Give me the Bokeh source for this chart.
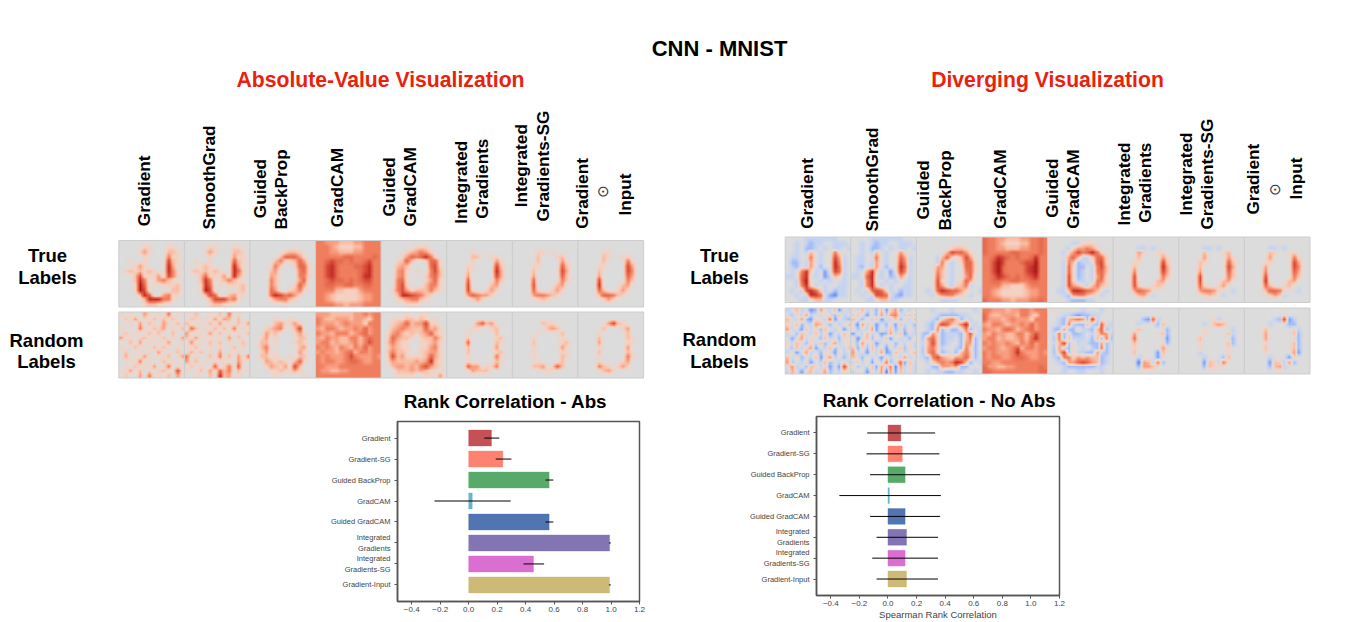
import numpy as np
from bokeh.embed import file_html
from bokeh.resources import INLINE
from bokeh.plotting import figure
from bokeh.layouts import column, row
from bokeh.models import Range1d, LinearColorMapper, FixedTicker, ColumnDataSource, Spacer
from bokeh.core.properties import value

# ---- bar chart data
bar_labels = ["Gradient", "Gradient-SG", "Guided BackProp", "GradCAM", "Guided GradCAM",
              "Integrated\nGradients", "Integrated\nGradients-SG", "Gradient-Input"]
bar_colors = ["#c44e52", "#ff7f6e", "#55a868", "#64b5cd", "#4c72b0", "#8172b2", "#da6bd0", "#ccb974"]
abs_vals = [0.16, 0.24, 0.565, 0.025, 0.565, 0.99, 0.455, 0.99]
abs_lo = [0.11, 0.19, 0.54, -0.24, 0.54, 0.985, 0.385, 0.985]
abs_hi = [0.215, 0.30, 0.595, 0.295, 0.595, 0.998, 0.53, 0.998]
noabs_vals = [0.09, 0.10, 0.12, 0.01, 0.12, 0.13, 0.12, 0.13]
noabs_lo = [-0.145, -0.15, -0.125, -0.34, -0.125, -0.08, -0.11, -0.08]
noabs_hi = [0.33, 0.36, 0.365, 0.37, 0.365, 0.35, 0.35, 0.35]
x_ticks = [-0.4, -0.2, 0.0, 0.2, 0.4, 0.6, 0.8, 1.0, 1.2]

# ---- saliency maps on a coarse grid.
# digits: red intensity, letters a-g: blue intensity
a_t_grad = ["00000000000000","00000110001100","00001310002210","00000100004110","00100100006210","00013100007301","01212121007410","00026111306410","00027401342100","00018501011120","00018600000220","00002750034110","00000277744100","00000122110000"]
a_t_smooth = ["00000000000000","00000110001100","00001310002210","00000100003110","00100100005210","00012100007301","01212121007510","00025111307310","00027401242100","00017501011120","00018600000120","00002650023110","00000266634100","00000122110000"]
a_t_gb = ["00000000000000","00000000000000","00000001221000","00000025553100","00000241125300","00001410015510","00002300004510","00003200004410","00004200003500","00004200015300","00005300124100","00005764531000","00001344210000","00000001000000"]
a_t_cam = ["44333222334444","44432111224444","44433222334444","44444455444454","44565545445644","44675444556744","44675444456744","44675444457744","44565545456644","44554455445544","44442211134444","44321111123344","44321111123344","44443323334444"]
a_t_ggc = ["00000000000000","00000001110000","00000123431000","00001354574100","00012520015510","00023200005610","00034101004620","00034100014520","00045100013510","00046100024410","00146312224210","00027765421000","00012344210000","00000111000000"]
a_t_ig = ["00000000000000","00000000000000","00000100000000","00000220011000","00000100003100","00001100006200","00002000007300","00003000006300","00005000004200","00006000023000","00006100131000","00003543310000","00000131000000","00000000000000"]
a_t_igsg = ["00000000000000","00000000000000","00000110100000","00000200012000","00000200003100","00001100005200","00002000006300","00003000005200","00005000004200","00006000023000","00005100131000","00003443210000","00000121000000","00000000000000"]
a_t_gi = ["00000000000000","00000000000000","00000110000000","00000210011000","00000200004100","00001100006300","00002000006400","00003000005300","00006000004200","00007000023000","00005200131000","00002554210000","00000131000000","00000000000000"]

a_r_grad = ["10100310104010","02030102020200","00103020031020","10004102130102","02010020200200","30101201020103","00203010103001","10020102020010","02001010301020","03010300102003","00104010020100","01020103004010","10302010120060","02003040102030"]
a_r_smooth = ["10200102040100","02101030320200","20010203010203","05201020204010","30010302010102","20301010030200","04010202010020","10200101002010","03020103010100","40100204020304","30201010100310","02010050140500","10020305240201","00100207230100"]
a_r_gb = ["00000000000000","00000100100000","00000231131000","00012340026000","00031200013100","00130100002200","00220100012100","00240000002300","00130100003100","00220100102200","00032121025100","00013213062000","00001121131000","00000100000100"]
a_r_cam = ["33322222334344","43223332332144","43332343331444","32443233435344","43324442345344","32433224424544","34423223424644","43432432435344","34332345244344","43433346433343","43443345543344","44333444444444","43322334444444","44444444444444"]
a_r_ggc = ["00000100110000","00111221210100","00123523361100","00234322252310","01342121235210","01532210122420","02421100112310","01321100113410","02422100123310","01623111125310","01322223237210","00233232463210","00022232321101","00011110011030"]
a_r_ig = ["00000000000000","00000000000000","00000035230000","00000110012000","00001000002000","00001000001200","00005000002100","00002000003000","00002000001200","00001000004100","00001000002100","00005330114000","00000322200000","00000000000000"]
a_r_igsg = ["00000000000000","00000000000000","00000021100000","00000002320000","00000100002000","00001000001000","00002000001200","00001000003100","00001000001100","00001000002100","00000100002000","00002230152000","00000011100000","00000000000000"]
a_r_gi = ["00000000000000","00000000000000","00000036210000","00000200013000","00001000002000","00002000002100","00003000001100","00001000003000","00002000002100","00001000004100","00001000013000","00004210131000","00000231000000","00000000000000"]

d_t_grad = ["0000aaaaaaa000","00a0abaa00aaa0","00a0bba0a0aa0a","00a0a20a004100","0aa0040a0063a0","0bb0a30a0074a0","0ab0a30b0075a0","0a0471a0c065a0","aa0570a0ca21a0","00a5800a0a00a0","00a471a0a00aa0","0a0a6751a0baa0","00a0a7750cdaa0","000aa022aa0000"]
d_t_smooth = ["0000aaaaaaa000","00a0abaa00aaa0","00a0bba0a0aa0a","00a0a20a003100","0aa0040a0053a0","0aa0a30a0064a0","0ab0a30b0075a0","0a0371a0c064a0","aa0570a0ba31a0","00a4700a0a00a0","00a471a0a00aa0","0a0a5651a0baa0","00a0a6650bcaa0","000aa022aa0000"]
d_t_gb = ["00000000000000","00000000000000","00000001221000","00000026553100","0000a251026300","0000a40a015510","0000330a005510","0000420a004510","0000520a003500","0000610a015300","0000630a124a00","00a0576553100a","000a1344210a00","00000aaaa00000"]
d_t_cam = ["54433222334454","54432111224454","54433222334454","54444455444454","44576545445744","44686444566844","44685444467844","44685444467844","44576545456744","44554455445544","44442211134444","44321111123344","44321111123344","54443323334454"]
d_t_ggc = ["00000000000000","00000aa1110000","0000a133431000","000a1364574100","0000352aa15510","000a42baa05610","000a51bb0a4620","000a51ba0a4520","000a61ba0a3510","000a61aa0a4410","000a6320a24210","00aa27765420a0","000ab344210a00","0000abbbaa0000"]
d_t_ig = ["00000000000000","00000000000000","00000aa0a00000","00000310011000","00000200003100","00001100006200","00002000007300","00004000006300","00006000004200","00006000023000","00006100121000","00003543100000","00000230a00000","00000000000000"]
d_t_igsg = ["00000000000000","00000000000000","00000aa0a00000","00000200012000","00000300003100","00002100005200","00002000006300","00003000005200","00006000004200","00006000023000","00005100130000","00003443100a00","000001210a0000","00000000000000"]
d_t_gi = ["00000000000000","00000000000000","00000aa0a00000","00000210011000","00000300004100","00001100006300","00003000006400","00004000005300","00006000004200","00007000023000","00005200120000","00002554100a00","00000131a00000","00000000000000"]

d_r_grad = ["a02a0cb30a2c0a","0b1a3a0a10b2a0","20a3bc10a4c0ab","1a2b0a320b1a02","3a0c2a1b20a1c0","a1b20a2a1c0a20","0c03a10b2a0b10","1a20b1a2b03a01","0b2a13c0a2b0a2","a1c03a0b10c1a0","2a1b0a2c03a0b0","3b0a1c0a2b0a1a","04a0b21a1c0c60","a30c12a03b0a10"]
d_r_smooth = ["1a2a0b2c13b0a1","a20c1b3a340a2a","20b1a2c0a2b1a2","0d3a1c0b1c2a0b","1b0a3c1a2b0b1a","c1a2a0cb3a2c0a","1d02b1a2c1a0b1","0b3a1c0a1b0a1a","2c1b2a1c0a2b1a","3a0c1a3cb20a02","20b1a0c1a0a3a0","a2a1c1a4b05c2a","1b0a2c3a4d3a1a","a10c1a3d3c2a1a"]
d_r_gb = ["000a000a0000a0","0000abbbbaa000","000ab1342b0a00","00ab26521470a0","00ab4b0bb04b0a","0bb31baaab250a","0b351baa0b24b0","0a261ba00b33b0","0b341a00ab41b0","0b351ba0b242b0","0ab463213352b0","00a13434762b0a","000bb3323bb000","00a0aabbaa00a0"]
d_r_cam = ["44333233443444","53223332442144","53332343331444","32443233435344","43324542345344","32433224424644","34423223425744","43433432435344","34432346244344","43433347433343","43443345543344","44334444444444","53322334444454","55444444444455"]
d_r_ggc = ["0100000a000a00","000aabcbbaa000","00ab2343b6a000","00ab4abb2ab50a","0bb3bb1aab25b0","0a4b1bba0a143a","0b4b2aaa0b2b4b","0a26b1a0abb3b0","0b3ab10a1ab4b0","0b26b1aabb3ab0","0ab44132322ba0","00ab3356532ba0","000abbbbbbaa00","000a00aa000a00"]
d_r_ig = ["00000000000000","00000000000000","000000bc5a0000","00000a000b2000","00000200000b00","00003000002b00","00005000000c00","00002000001b00","00001000003100","000020000c2000","00000a000c1000","00000d32a4b000","00000b33200000","00000000000000"]
d_r_igsg = ["00000000000000","00000000000000","00000001a00000","00000a02320000","00000100000a00","00000100002a00","00002000000b00","00001000002b00","00001000001000","0000a000001000","00000a000b2000","00000c21a40000","00000b21100000","00000000000000"]
d_r_gi = ["00000000000000","00000000000000","000000ab6ca000","00000a000bb000","00002000001a00","00003000002b00","00003000000b00","00001000002b00","00002000002b00","00001000003c00","00000a000c1000","00000c21a3b000","00000b23a00000","00000000000000"]

abs_true = [a_t_grad, a_t_smooth, a_t_gb, a_t_cam, a_t_ggc, a_t_ig, a_t_igsg, a_t_gi]
abs_rand = [a_r_grad, a_r_smooth, a_r_gb, a_r_cam, a_r_ggc, a_r_ig, a_r_igsg, a_r_gi]
div_true = [d_t_grad, d_t_smooth, d_t_gb, d_t_cam, d_t_ggc, d_t_ig, d_t_igsg, d_t_gi]
div_rand = [d_r_grad, d_r_smooth, d_r_gb, d_r_cam, d_r_ggc, d_r_ig, d_r_igsg, d_r_gi]

stops = ["#1f3aa8", "#2f4cc0", "#4568d8", "#5a7ce0", "#7f9eee", "#a4bdf5", "#c5d3f3",
         "#dcdcdc",
         "#f3d2c4", "#f9bda5", "#f89d80", "#f07e5e", "#e56a4f", "#d84a38", "#c22e27", "#a81a1d", "#860c14"]
rgb = np.array([[int(s[i:i + 2], 16) for i in (1, 3, 5)] for s in stops], float)
fine = np.linspace(0, len(stops) - 1, 161)
palette = ["#%02x%02x%02x" % tuple(int(round(np.interp(t, np.arange(len(stops)), rgb[:, c]))) for c in range(3)) for t in fine]
mapper = LinearColorMapper(palette=palette, low=-7.05, high=9.05)

def box(a, w):
    # display blur: the reference panels are soft bitmaps
    pad = w // 2
    b = np.pad(a, pad, mode="edge")
    ker = np.ones(w) / w
    b = np.apply_along_axis(lambda r: np.convolve(r, ker, mode="same"), 0, b)
    b = np.apply_along_axis(lambda r: np.convolve(r, ker, mode="same"), 1, b)
    return b[pad:-pad, pad:-pad]

def decode(rows):
    out = []
    for r in rows:
        out.append([float(c) if c.isdigit() else -float(ord(c) - 96) for c in r])
    a = np.kron(np.array(out)[::-1], np.ones((5, 5)))
    return box(a, 5)

W, H_TOP = 1329, 412
top = figure(width=W, height=H_TOP, x_range=Range1d(0, W), y_range=Range1d(-H_TOP, 0),
             output_backend="svg", toolbar_location=None, x_axis_location=None, y_axis_location=None,
             min_border=0, outline_line_color=None)
top.grid.visible = False

def strip(panels, x0, y0, step, h):
    for i, pan in enumerate(panels):
        x = x0 + i * step
        top.image(image=[decode(pan)], x=x, y=-(y0 + h), dw=step, dh=h, color_mapper=mapper)
        top.quad(left=[x], right=[x + step], top=[-y0], bottom=[-(y0 + h)], fill_color=None,
                 line_color="#cdcdcd", line_width=1)

strip(abs_true, 118.3, 240, 65.6, 66.5)
strip(abs_rand, 118.3, 311.5, 65.6, 66)
strip(div_true, 784.7, 236.5, 65.6, 65.5)
strip(div_rand, 784.7, 307.5, 65.6, 66)

def label(x, y, s, size, color="#000000", angle=0.0, align="center", base="middle", font="Liberation Sans", style="bold"):
    top.text(x=[x], y=[-y], text=[s], text_font=value(font), text_font_size=f"{size}px",
             text_font_style=style, text_color=color, angle=angle, text_align=align, text_baseline=base)

label(719, 48, "CNN - MNIST", 22)
label(380, 79, "Absolute-Value Visualization", 21.2, "#e8220c")
label(1047, 79, "Diverging Visualization", 21.2, "#e8220c")
label(47, 255, "True", 18.5); label(47, 277, "Labels", 18.5)
label(46, 340, "Random", 18.5); label(46, 361, "Labels", 18.5)
label(719, 255, "True", 18.5); label(719, 277, "Labels", 18.5)
label(719, 339, "Random", 18.5); label(719, 361, "Labels", 18.5)
label(505, 401, "Rank Correlation - Abs", 18.8)
label(939, 400, "Rank Correlation - No Abs", 18.8)

col_heads_left = [("Gradient", 143.3, 225.7), ("SmoothGrad", 208.3, 229), ("Guided", 259.3, 217.7), ("BackProp", 280.7, 229),
                  ("GradCAM", 336.7, 226.7), ("Guided", 388.3, 216), ("GradCAM", 409.3, 226), ("Integrated", 460, 223.3),
                  ("Gradients", 481.7, 218.3), ("Integrated", 520.7, 206.7), ("Gradients-SG", 542.3, 221),
                  ("Gradient", 581.7, 228.3), ("Input", 624.3, 215)]
col_heads_right = [("Gradient", 806.7, 228.3), ("SmoothGrad", 871, 231), ("Guided", 922.3, 219), ("BackProp", 944, 230),
                   ("GradCAM", 999.3, 228.3), ("Guided", 1051.7, 217.3), ("GradCAM", 1072.7, 228.3), ("Integrated", 1123.3, 225),
                   ("Gradients", 1144.3, 222.3), ("Integrated", 1185, 215), ("Gradients-SG", 1206.7, 229),
                   ("Gradient", 1252.3, 214), ("Input", 1295.7, 199)]
for s, x, y in col_heads_left + col_heads_right:
    label(x, y, s, 17.2, angle=np.pi / 2, align="left")
label(602.7, 191, "\u2299", 15, "#333333", angle=np.pi / 2, font="DejaVu Sans", style="normal")
label(1274, 189, "\u2299", 15, "#333333", angle=np.pi / 2, font="DejaVu Sans", style="normal")


def bar_chart(vals, lo, hi, width, height, left, right, btop, bbot):
    p = figure(width=width, height=height, x_range=Range1d(-0.5, 1.2), y_range=Range1d(7.79, -0.79),
               output_backend="svg", toolbar_location=None, min_border_left=left, min_border_right=right,
               min_border_top=btop, min_border_bottom=bbot,
               outline_line_color="#555555", outline_line_width=1.5)
    p.grid.visible = False
    ys = list(range(len(vals)))
    src = ColumnDataSource(dict(y=ys, v=vals, lo=lo, hi=hi, c=bar_colors))
    p.hbar(y="y", left=0, right="v", height=0.76, fill_color="c", fill_alpha=0.98, line_color="c", line_alpha=0.35, line_width=1, source=src)
    p.segment(x0="lo", x1="hi", y0="y", y1="y", line_color="#000000", line_width=1, source=src)
    xa, ya = p.xaxis[0], p.yaxis[0]
    xa.ticker = FixedTicker(ticks=x_ticks)
    xa.major_label_overrides = {t: f"{t:.1f}".replace("-", "\u2212") for t in x_ticks}
    ya.ticker = FixedTicker(ticks=ys)
    ya.major_label_overrides = {i: s for i, s in enumerate(bar_labels)}
    for a in (xa, ya):
        a.axis_line_color = "#555555"
        a.axis_line_width = 1.5
        a.major_tick_line_color = "#555555"
        a.major_tick_in = 0
        a.major_tick_out = 3
        a.minor_tick_line_color = None
        a.major_label_text_font = "Liberation Sans"
        a.major_label_text_color = "#444444"
    xa.major_label_standoff = 2
    ya.major_label_standoff = 4
    xa.major_label_text_font_size = "8px"
    ya.major_label_text_font_size = "7.5px"
    return p

f1 = bar_chart(abs_vals, abs_lo, abs_hi, 660, 197, 397, 21, 4, 12)
f2 = bar_chart(noabs_vals, noabs_lo, noabs_hi, 669, 210, 156, 270, 4, 25)
xa2 = f2.xaxis[0]
xa2.axis_label = "Spearman Rank Correlation"
xa2.axis_label_text_font = "Liberation Sans"
xa2.axis_label_text_font_style = "normal"
xa2.axis_label_text_font_size = "9.5px"
xa2.axis_label_text_color = "#444444"
xa2.axis_label_standoff = 0

page = column(top, row(column(Spacer(width=660, height=5), f1, spacing=0), f2, spacing=0), spacing=0)
open("out.html", "w").write(file_html(page, INLINE))
